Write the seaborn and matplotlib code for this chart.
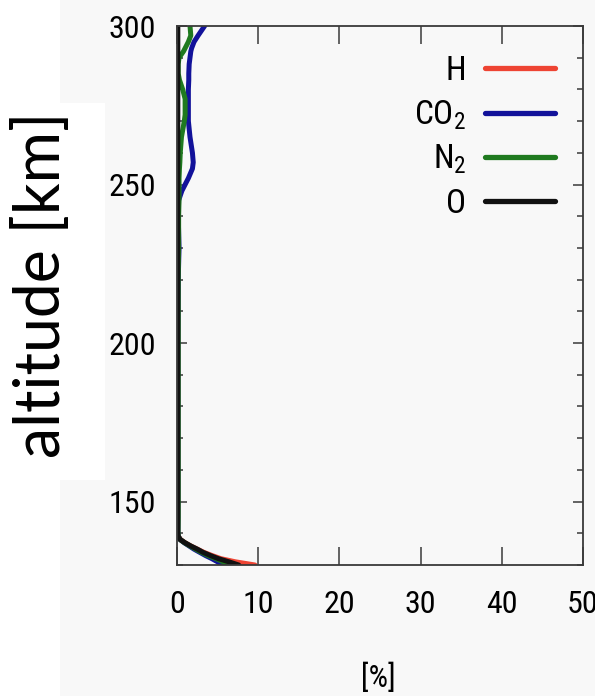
import matplotlib
matplotlib.use("Agg")
import matplotlib.pyplot as plt
from matplotlib import font_manager
from matplotlib.font_manager import FontProperties
from matplotlib.patches import Rectangle
from matplotlib.ticker import MultipleLocator
import pandas as pd
import seaborn as sns

# Altitude grid [km] and species fractions [%]
altitude = [130, 131, 132, 133, 134, 135, 136, 137, 138, 139, 140, 145, 150, 160, 170,
            180, 190, 200, 210, 220, 230, 235, 240, 245, 248, 250, 252, 255, 257, 260,
            265, 270, 272, 275, 277, 280, 283, 285, 288, 290, 292, 293, 295, 297, 300]

frac_H = [9.6, 7.2, 5.4, 4.3, 3.3, 2.5, 1.7, 1.0, 0.45, 0.15, 0.05, 0.03, 0.03, 0.03, 0.03,
          0.03, 0.03, 0.03, 0.03, 0.03, 0.03, 0.03, 0.03, 0.03, 0.03, 0.03, 0.03, 0.03, 0.03, 0.03,
          0.03, 0.03, 0.03, 0.03, 0.03, 0.03, 0.03, 0.03, 0.03, 0.03, 0.03, 0.03, 0.03, 0.03, 0.03]

frac_CO2 = [5.6, 5.0, 4.3, 3.5, 2.8, 2.1, 1.5, 0.9, 0.4, 0.15, 0.1, 0.1, 0.1, 0.1, 0.1,
            0.1, 0.1, 0.1, 0.12, 0.15, 0.25, 0.2, 0.15, 0.2, 0.6, 1.0, 1.4, 1.9, 2.0, 1.9,
            1.6, 1.4, 1.4, 1.4, 1.4, 1.4, 1.45, 1.45, 1.5, 1.6, 1.7, 1.8, 2.1, 2.6, 3.4]

frac_N2 = [6.6, 5.7, 4.8, 3.8, 3.0, 2.3, 1.6, 0.95, 0.4, 0.15, 0.12, 0.15, 0.15, 0.15, 0.15,
           0.15, 0.15, 0.15, 0.15, 0.15, 0.2, 0.2, 0.2, 0.25, 0.25, 0.25, 0.25, 0.3, 0.35, 0.4,
           0.55, 0.9, 1.0, 1.0, 1.0, 0.7, 0.3, 0.15, 0.15, 0.25, 0.8, 1.0, 1.4, 1.7, 1.6]

frac_O = [7.6, 6.4, 5.1, 4.1, 3.2, 2.5, 1.7, 1.0, 0.4, 0.15, 0.1, 0.1, 0.1, 0.1, 0.1,
          0.1, 0.1, 0.1, 0.1, 0.1, 0.1, 0.1, 0.1, 0.1, 0.1, 0.1, 0.1, 0.1, 0.1, 0.1,
          0.1, 0.1, 0.1, 0.1, 0.1, 0.1, 0.1, 0.1, 0.1, 0.1, 0.1, 0.1, 0.1, 0.1, 0.1]

species = ["H", "CO2", "N2", "O"]
species_labels = {"H": "H", "CO2": r"CO$_2$", "N2": r"N$_2$", "O": "O"}
colors = {"H": "#ee4433", "CO2": "#12129a", "N2": "#1f7a1f", "O": "#111111"}

x_ticks = [0, 10, 20, 30, 40, 50]
y_ticks = [150, 200, 250, 300]

frames = []
for name, vals in zip(species, [frac_H, frac_CO2, frac_N2, frac_O]):
    frames.append(pd.DataFrame({"altitude": altitude, "percent": vals, "species": name}))
df = pd.concat(frames, ignore_index=True)

sns.set_theme(style="ticks")


def pick_narrow_font():
    """Return the path of a condensed sans font, if one is installed."""
    fonts = font_manager.fontManager.ttflist
    for wanted in ("Liberation Sans Narrow", "Roboto Condensed", "Open Sans Condensed",
                   "Noto Sans Condensed", "DejaVu Sans Condensed"):
        for f in fonts:
            if f.name == wanted and f.weight in (400, "normal", "regular") and f.style == "normal":
                return f.fname
    for f in fonts:
        stretch = str(f.stretch).lower()
        if ("condensed" in stretch or "narrow" in f.fname.lower() or "condensed" in f.fname.lower()) \
                and f.style == "normal" and "bold" not in f.fname.lower() \
                and "oblique" not in f.fname.lower() and "italic" not in f.fname.lower():
            return f.fname
    return None


narrow_path = pick_narrow_font()
if narrow_path:
    narrow_name = FontProperties(fname=narrow_path).get_name()
    font_manager.fontManager.addfont(narrow_path)
    fp_kw = dict(fname=narrow_path)
else:
    narrow_name = "Liberation Sans"
    fp_kw = dict(family="Liberation Sans")

plt.rcParams["font.family"] = [narrow_name, "DejaVu Sans"]
plt.rcParams["mathtext.fontset"] = "custom"
plt.rcParams["mathtext.rm"] = narrow_name
plt.rcParams["mathtext.it"] = narrow_name
plt.rcParams["mathtext.bf"] = narrow_name
plt.rcParams["text.color"] = "black"

bg = "#f8f8f8"
fig = plt.figure(figsize=(5.95, 6.96), dpi=100)
fig.patch.set_facecolor("white")
fig.patches.append(Rectangle((60 / 595, 0), 1, 1, transform=fig.transFigure,
                             facecolor=bg, edgecolor="none", zorder=-10))
fig.patches.append(Rectangle((0, 1 - 480 / 696), 105 / 595, (480 - 103) / 696,
                             transform=fig.transFigure, facecolor="white",
                             edgecolor="none", zorder=-9))

ax = fig.add_axes([177 / 595, 1 - 565 / 696, (583 - 177) / 595, (565 - 26) / 696])
ax.set_facecolor(bg)

sns.lineplot(data=df, x="percent", y="altitude", hue="species", hue_order=species,
             palette=colors, orient="y", sort=False, estimator=None, linewidth=3.6,
             ax=ax, legend=False)

ax.set_xlim(0, 50)
ax.set_ylim(130, 300)
ax.set_xticks(x_ticks)
ax.set_yticks(y_ticks)
ax.yaxis.set_minor_locator(MultipleLocator(10))
ax.set_xlabel("")
ax.set_ylabel("")

for s in ax.spines.values():
    s.set_visible(True)
    s.set_color("#3a3a3a")
    s.set_linewidth(1.3)

tick_fp = FontProperties(size=23, **fp_kw)
ax.tick_params(axis="x", which="major", direction="in", top=True, bottom=True,
               length=13, width=1.1, color="#3a3a3a", labelcolor="black", pad=18)
ax.tick_params(axis="y", which="major", direction="in", left=True, right=True,
               length=7.5, width=1.1, color="#3a3a3a", labelcolor="black", pad=15)
ax.tick_params(axis="y", which="minor", direction="in", left=True, right=True,
               length=4, width=1.1, color="#3a3a3a")
for lab in ax.get_xticklabels() + ax.get_yticklabels():
    lab.set_fontproperties(tick_fp)

# Legend: labels on the left, line samples on the right
handles = [plt.Line2D([], [], color=colors[s], linewidth=3.8) for s in species]
ax.legend(handles, [species_labels[s] for s in species], loc="upper right",
          frameon=False, markerfirst=False, prop=FontProperties(size=24, **fp_kw),
          handlelength=2.1, handletextpad=0.55, labelspacing=0.34, borderaxespad=0.5,
          bbox_to_anchor=(1.004, 1.002))

fig.text(378 / 595, 1 - 678 / 696, "[%]", ha="center", va="center",
         fontproperties=FontProperties(size=22, **fp_kw))
fig.text(42 / 595, 1 - 285 / 696, "altitude [km]", rotation=90, ha="center",
         va="center", fontsize=45, family=["Lato", "DejaVu Sans"])

fig.savefig("out.png", dpi=100, facecolor=fig.get_facecolor())
